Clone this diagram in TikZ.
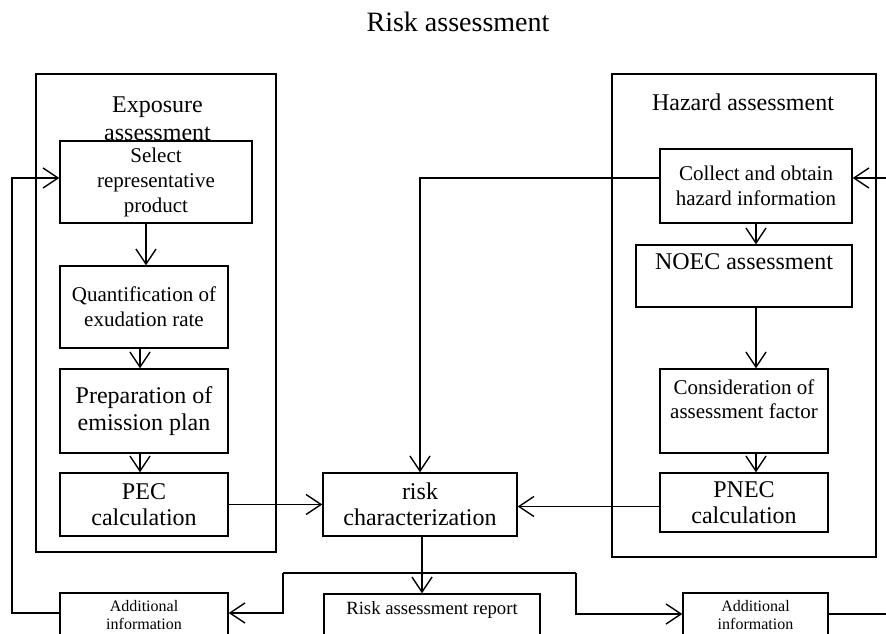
\documentclass[tikz,border=0pt]{standalone}
\usepackage{fontspec}
\setmainfont{Liberation Serif}
\usetikzlibrary{arrows.meta}

\newcommand{\fs}[2]{\fontsize{#1}{#2}\selectfont}

\begin{document}
\begin{tikzpicture}[x=1pt,y=-1pt,
  line width=1.4pt,
  box/.style={draw, fill=white, inner sep=0pt, align=center},
  frame/.style={draw, inner sep=0pt},
  arr/.style={-{Straight Barb[length=15pt,width=20pt]}},
]
\useasboundingbox (0,0) rectangle (886,633);
\clip (0,0) rectangle (886,633);

% heading
\node[anchor=base, font=\fs{28}{32}] (title) at (458,31) {Risk assessment};

% outer frames
\node[frame, minimum width=240pt, minimum height=478pt] (expo) at (156,313) {};
\node[frame, minimum width=264pt, minimum height=483pt] (haz) at (744,315.5) {};
\node[align=center, font=\fs{24}{28}] (expot) at (157.5,119) {Exposure\\assessment};
\node[anchor=base, font=\fs{24}{28}] (hazt) at (743,110) {Hazard assessment};

% exposure chain
\node[box, minimum width=192pt, minimum height=82pt, font=\fs{21}{25}] (sel) at (156,182) {Select\\representative\\product};
\node[box, minimum width=168pt, minimum height=82pt, font=\fs{21}{25}] (quant) at (144,307) {Quantification of\\exudation rate};
\node[box, minimum width=168pt, minimum height=84pt, font=\fs{24}{27}] (prep) at (144,411) {Preparation of\\emission plan};
\node[box, minimum width=168pt, minimum height=63pt, font=\fs{24}{26}] (pec) at (144,504.5) {PEC\\calculation};

% hazard chain
\node[box, minimum width=192pt, minimum height=74pt, font=\fs{21}{25}] (coll) at (756,186) {Collect and obtain\\hazard information};
\node[box, minimum width=216pt, minimum height=62pt, font=\fs{24}{28}] (noec) at (744,276) {NOEC assessment\\\phantom{A}};
\node[box, minimum width=168pt, minimum height=84pt, font=\fs{21}{24}] (cons) at (744,411) {Consideration of\\assessment factor\\\phantom{A}};
\node[box, minimum width=168pt, minimum height=59pt, font=\fs{24}{26}] (pnec) at (744,502.5) {PNEC\\calculation};

% centre and bottom row
\node[box, minimum width=194pt, minimum height=63pt, font=\fs{24}{26}] (risk) at (420,504.5) {risk\\characterization};
\node[box, minimum width=216pt, minimum height=49pt, font=\fs{18.7}{22}] (report) at (432,618.5) {Risk assessment report\\\phantom{A}};
\node[box, minimum width=168pt, minimum height=44pt, font=\fs{16}{18.5}] (addL) at (144,615) {Additional\\information};
\node[box, minimum width=145pt, minimum height=44pt, font=\fs{16}{18.5}] (addR) at (755.5,615) {Additional\\information};

% routing points
\coordinate (loopL) at (12,178);
\coordinate (inR) at (890,178);
\coordinate (outR) at (890,614);
\coordinate (brL) at (283,573);
\coordinate (brR) at (576,573);

% exposure flow
\draw[arr] ([xshift=-10pt]sel.south) -- ([xshift=-10pt]sel.south |- quant.north);
\draw[arr] ([xshift=-4pt]quant.south) -- ([xshift=-4pt]prep.north);
\draw[arr] ([xshift=-4pt]prep.south) -- ([xshift=-4pt]pec.north);
\draw[arr] (pec.east) -- (pec.east -| risk.west);

% hazard flow
\draw[arr] (inR) -- ([yshift=8pt]coll.east);
\draw[arr] (coll.south) -- (coll.south |- noec.north);
\draw[arr] (coll.south |- noec.south) -- (coll.south |- cons.north);
\draw[arr] (coll.south |- cons.south) -- (coll.south |- pnec.north);
\draw[arr] ([yshift=-4pt]pnec.west) -- ([yshift=-4pt]pnec.west -| risk.east);
\draw[arr] ([yshift=8pt]coll.west) -| (risk.north);

% results and feedback
\draw[arr] ([xshift=2pt]risk.south) -- ([xshift=2pt]risk.south |- report.north);
\draw (brL) -- (brR);
\draw[arr] (brL) |- ([yshift=2pt]addL.east);
\draw[arr] (brR) |- ([yshift=1pt]addR.west);
\draw ([yshift=1pt]addR.east) -- (outR);
\draw[arr] ([yshift=2pt]addL.west) -| (loopL) -- ([yshift=4pt]sel.west);
\end{tikzpicture}
\end{document}
